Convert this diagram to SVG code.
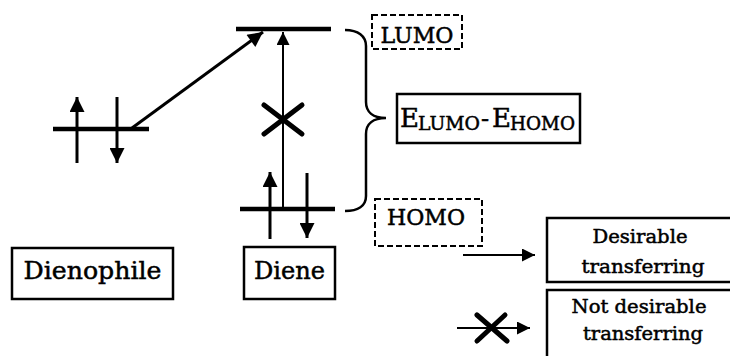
<svg xmlns="http://www.w3.org/2000/svg" width="730" height="356" viewBox="0 0 730 356">
<defs>
<style>
.lvl{stroke:#000;stroke-width:4.5;fill:none;stroke-linecap:butt}
.shaft{stroke:#000;stroke-width:3;fill:none}
.thin{stroke:#000;stroke-width:2;fill:none}
.box{fill:#fff;stroke:#000;stroke-width:2.5}
.dbox{fill:none;stroke:#000;stroke-width:2;stroke-dasharray:6 3}
.t{font-family:"DejaVu Serif","Liberation Serif",serif;fill:#000;stroke:#000;stroke-width:0.5}
.cross{stroke:#000;stroke-width:5;stroke-linecap:round}
</style>
<marker id="ah" viewBox="0 0 10 10" refX="10" refY="5" markerWidth="5.5" markerHeight="5" markerUnits="strokeWidth" orient="auto">
<path d="M0,0 L10,5 L0,10 Z" fill="#000"/>
</marker>
<marker id="ah2" viewBox="0 0 10 10" refX="10" refY="5" markerWidth="8" markerHeight="6.5" markerUnits="strokeWidth" orient="auto">
<path d="M0,0 L10,5 L0,10 Z" fill="#000"/>
</marker>
</defs>
<rect width="730" height="356" fill="#fff"/>

<g id="dienophile-levels">
<line class="lvl" x1="53" y1="129" x2="149" y2="129"/>
<line class="shaft" x1="77" y1="163" x2="77" y2="97" marker-end="url(#ah)"/>
<line class="shaft" x1="117" y1="97" x2="117" y2="163" marker-end="url(#ah)"/>
</g>

<g id="diene-levels">
<line class="lvl" x1="236" y1="29" x2="331" y2="29"/>
<line class="lvl" x1="240" y1="209" x2="335" y2="209"/>
<line class="shaft" x1="270" y1="239" x2="270" y2="172" marker-end="url(#ah)"/>
<line class="shaft" x1="307" y1="173" x2="307" y2="238" marker-end="url(#ah)"/>
</g>

<g id="connectors">
<line class="shaft" x1="132" y1="128" x2="263" y2="32" marker-end="url(#ah)"/>
<line class="thin" x1="283" y1="207" x2="283" y2="32" marker-end="url(#ah2)"/>
<line class="cross" x1="264" y1="105" x2="302" y2="134"/>
<line class="cross" x1="302" y1="105" x2="264" y2="134"/>
<path d="M345,30 C358,30 366,36 366,46 L366,102 C366,112 373,118 386,118 C373,118 366,124 366,134 L366,196 C366,206 358,211 345,211" fill="none" stroke="#000" stroke-width="2.5"/>
</g>

<g id="lumo">
<rect class="dbox" x="372" y="15" width="90" height="34"/>
<text class="t" x="417" y="43" font-size="23" text-anchor="middle" textLength="73" lengthAdjust="spacingAndGlyphs">LUMO</text>
</g>

<g id="homo">
<rect class="dbox" x="375" y="199" width="107" height="47"/>
<text class="t" x="426" y="225" font-size="23" text-anchor="middle" textLength="78" lengthAdjust="spacingAndGlyphs">HOMO</text>
</g>

<g id="gap">
<rect class="box" x="397" y="94" width="183" height="49"/>
<text class="t" x="400" y="127" font-size="26">E</text>
<text class="t" x="418" y="130" font-size="19" textLength="62" lengthAdjust="spacingAndGlyphs">LUMO</text>
<text class="t" x="481" y="127" font-size="24">-</text>
<text class="t" x="492" y="127" font-size="26">E</text>
<text class="t" x="510" y="130" font-size="19" textLength="65" lengthAdjust="spacingAndGlyphs">HOMO</text>
</g>

<g id="dienophile">
<rect class="box" x="12" y="248" width="161" height="51"/>
<text class="t" x="92.5" y="279" font-size="25" text-anchor="middle" textLength="138" lengthAdjust="spacingAndGlyphs">Dienophile</text>
</g>

<g id="diene">
<rect class="box" x="244" y="247" width="91" height="52"/>
<text class="t" x="289.5" y="279" font-size="25" text-anchor="middle" textLength="71" lengthAdjust="spacingAndGlyphs">Diene</text>
</g>

<g id="legend-arrows">
<line class="thin" x1="463" y1="255" x2="535" y2="255" marker-end="url(#ah2)"/>
<line class="thin" x1="457" y1="328" x2="530" y2="328" marker-end="url(#ah2)"/>
<line class="cross" x1="477" y1="315" x2="507" y2="341" stroke-width="7"/>
<line class="cross" x1="505" y1="315" x2="477" y2="341" stroke-width="7"/>
</g>

<g id="desirable">
<rect class="box" x="547" y="218" width="190" height="64"/>
<text class="t" x="640" y="243" font-size="19" text-anchor="middle" textLength="95" lengthAdjust="spacingAndGlyphs">Desirable</text>
<text class="t" x="643" y="273" font-size="19" text-anchor="middle" textLength="123" lengthAdjust="spacingAndGlyphs">transferring</text>
</g>

<g id="not-desirable">
<rect class="box" x="547" y="290" width="190" height="80"/>
<text class="t" x="639" y="313" font-size="19" text-anchor="middle" textLength="135" lengthAdjust="spacingAndGlyphs">Not desirable</text>
<text class="t" x="643" y="340" font-size="19" text-anchor="middle" textLength="120" lengthAdjust="spacingAndGlyphs">transferring</text>
</g>
</svg>
